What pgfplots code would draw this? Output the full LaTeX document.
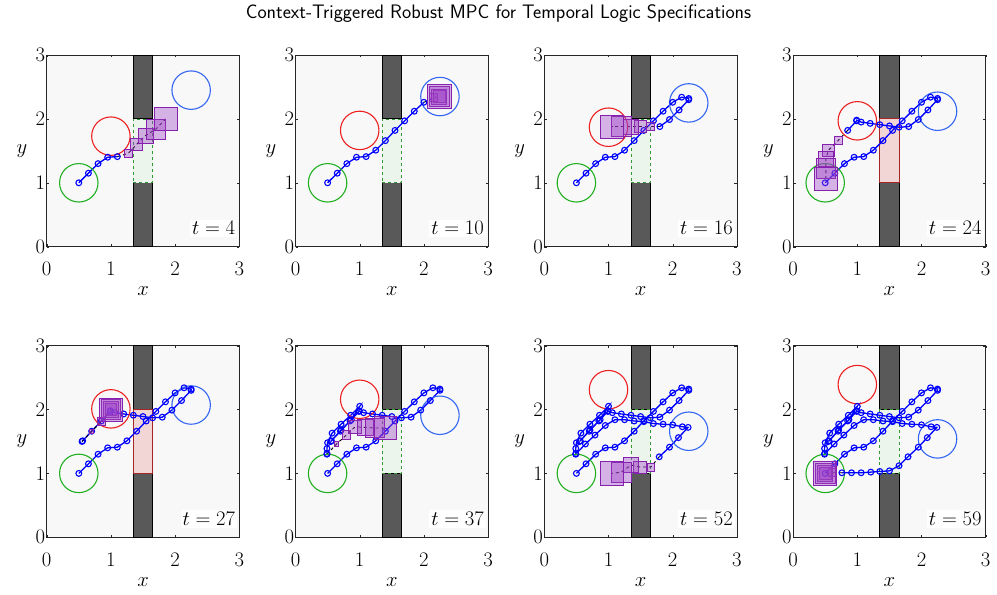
\documentclass[border=0pt]{standalone}
\usepackage{pgfplots}
\pgfplotsset{compat=1.18}
\usepackage{pgfplotstable}

\definecolor{bgc}{rgb}{0.973,0.973,0.973}
\definecolor{obstc}{rgb}{0.35,0.35,0.35}
\definecolor{gapg}{rgb}{0.92,0.96,0.92}
\definecolor{gapgedge}{rgb}{0.2,0.6,0.2}
\definecolor{gapr}{rgb}{0.95,0.84,0.84}
\definecolor{gapredge}{rgb}{0.65,0.15,0.15}
\definecolor{cgreen}{rgb}{0.13,0.69,0.13}
\definecolor{cred}{rgb}{0.93,0.13,0.13}
\definecolor{cblue}{rgb}{0.2,0.4,0.95}
\definecolor{pfill}{rgb}{0.62,0.25,0.78}
\definecolor{pedge}{rgb}{0.52,0.13,0.68}
\definecolor{axc}{rgb}{0.15,0.15,0.15}

% closed-loop trajectory of the robot (one row per time step)
\pgfplotstableread{
x y
0.50 1.00
0.65 1.15
0.80 1.30
0.95 1.40
1.10 1.41
1.25 1.51
1.40 1.66
1.55 1.82
1.70 1.97
1.85 2.12
2.00 2.26
2.14 2.34
2.25 2.32
2.25 2.30
2.10 2.14
1.95 1.99
1.80 1.88
1.65 1.87
1.50 1.89
1.35 1.91
1.20 1.93
1.06 1.95
0.99 1.98
0.99 1.97
0.85 1.82
0.70 1.66
0.56 1.51
0.55 1.50
0.71 1.68
0.87 1.84
1.00 2.05
0.86 1.91
0.71 1.77
0.57 1.63
0.50 1.48
0.49 1.39
0.49 1.31
0.49 1.30
0.64 1.46
0.79 1.60
0.95 1.75
1.10 1.84
1.25 1.84
1.40 1.82
1.55 1.81
1.70 1.78
1.85 1.77
2.00 1.76
2.15 1.73
2.24 1.72
2.09 1.56
1.95 1.41
1.79 1.26
1.65 1.12
1.50 1.04
1.35 1.03
1.21 1.02
1.06 1.01
0.91 1.01
0.76 1.01
}\trajdata

% predicted nominal states and tube half-widths at each snapshot
\pgfplotstableread{
x y h
1.10 1.41 0
1.27 1.46 0.062
1.40 1.60 0.095
1.54 1.74 0.118
1.70 1.84 0.155
1.85 2.00 0.180
}\predA
\pgfplotstableread{
x y h
2.00 2.26 0
2.15 2.33 0.062
2.24 2.35 0.095
2.24 2.35 0.118
2.24 2.35 0.155
2.24 2.35 0.185
}\predB
\pgfplotstableread{
x y h
1.80 1.88 0
1.65 1.88 0.062
1.50 1.88 0.095
1.35 1.88 0.118
1.20 1.88 0.155
1.05 1.88 0.180
}\predC
\pgfplotstableread{
x y h
0.85 1.82 0
0.70 1.66 0.062
0.55 1.51 0.095
0.51 1.37 0.118
0.51 1.22 0.155
0.51 1.06 0.180
}\predD
\pgfplotstableread{
x y h
0.55 1.50 0
0.70 1.66 0.03
0.85 1.81 0.06
1.00 2.00 0.09
1.00 2.00 0.12
1.00 2.00 0.15
1.00 2.00 0.18
}\predE
\pgfplotstableread{
x y h
0.49 1.30 0
0.64 1.46 0.035
0.79 1.60 0.065
0.93 1.73 0.100
1.09 1.72 0.120
1.24 1.71 0.145
1.40 1.71 0.175
}\predF
\pgfplotstableread{
x y h
1.79 1.26 0
1.66 1.10 0.062
1.49 1.10 0.095
1.35 1.13 0.118
1.20 1.02 0.155
1.05 1.00 0.180
}\predG
\pgfplotstableread{
x y h
0.76 1.01 0
0.61 1.01 0.062
0.50 1.00 0.095
0.50 1.00 0.118
0.50 1.00 0.155
0.50 1.00 0.180
}\predH

\pgfplotsset{
  panel/.style={
    scale only axis, width=192.6bp, height=191.7bp,
    anchor=south west,
    xmin=0, xmax=3, ymin=0, ymax=3,
    xtick={0,1,2,3}, ytick={0,1,2,3},
    tick align=inside, major tick length=2.5bp,
    axis background/.style={fill=bgc},
    axis line style={draw=axc, line width=0.6bp},
    tick style={draw=axc},
    xlabel={$x$}, ylabel={$y$},
    tick label style={font=\fontsize{22}{24}\selectfont},
    xticklabel style={yshift=-12bp},
    yticklabel style={xshift=2bp},
    label style={font=\fontsize{22}{24}\selectfont},
    xlabel style={at={(axis description cs:0.5,-0.232)}, anchor=center},
    ylabel style={at={(axis description cs:-0.128,0.5)}, anchor=center, rotate=-90},
  },
  obst/.style={fill=obstc, draw=black, line width=0.8bp},
  gapgreen/.style={fill=gapg, draw=gapgedge, dashed, line width=0.7bp},
  gapred/.style={fill=gapr, draw=gapredge, line width=0.8bp},
  regcirc/.style={only marks, mark=o, mark size=19.3pt, mark options={#1, line width=1.1bp, solid}},
  traj/.style={blue, line width=1.3bp, mark=o, mark size=2.9bp, mark options={line width=1.1bp}},
}

% #1,#2 lower-left corner; #3 time label; #4 number of executed states;
% #5 prediction table; #6 gap style; #7 red target y; #8 blue target y
\newcommand{\panel}[8]{%
  \begin{axis}[panel, at={(#1bp,#2bp)}]
    \addplot[obst] coordinates {(1.35,0) (1.65,0) (1.65,1) (1.35,1)} -- cycle;
    \addplot[obst] coordinates {(1.35,2) (1.65,2) (1.65,3) (1.35,3)} -- cycle;
    \addplot[#6] coordinates {(1.35,1) (1.65,1) (1.65,2) (1.35,2)} -- cycle;
    \addplot[regcirc=cgreen] coordinates {(0.5,1.0)};
    \addplot[regcirc=cred] coordinates {(1.0,#7)};
    \addplot[regcirc=cblue] coordinates {(2.25,#8)};
    \addplot[traj, skip coords between index={#4}{500}] table {\trajdata};
    \addplot[scatter, only marks, mark=square*,
      skip coords between index={0}{1},
      visualization depends on={\thisrow{h} \as \hw},
      scatter/use mapped color={draw=pedge, fill=pfill},
      scatter/@pre marker code/.append style={/tikz/mark size={64.3*\hw}},
      mark options={fill opacity=0.38, line width=0.8bp}] table {#5};
    \addplot[black, dashed, line width=0.9bp] table {#5};
    \node[fill=white, anchor=south east, inner sep=2bp,
      font=\fontsize{21}{23}\selectfont] at (rel axis cs:0.99,0.05) {$t=#3$};
  \end{axis}}

\begin{document}
\begin{tikzpicture}
  \path[use as bounding box] (0,0) rectangle (997bp,595bp);
  \node[font=\sffamily\fontsize{19.6}{23}\selectfont] at (498.5bp,581bp)
    {Context-Triggered Robust MPC for Temporal Logic Specifications};
  \panel{46.7}{348.3}{4}{5}{\predA}{gapgreen}{1.73}{2.45}
  \panel{295.5}{348.3}{10}{11}{\predB}{gapgreen}{1.82}{2.35}
  \panel{544.3}{348.3}{16}{17}{\predC}{gapgreen}{1.87}{2.25}
  \panel{793.1}{348.3}{24}{25}{\predD}{gapred}{1.97}{2.12}
  \panel{46.7}{57.7}{27}{28}{\predE}{gapred}{2.01}{2.07}
  \panel{295.5}{57.7}{37}{38}{\predF}{gapgreen}{2.16}{1.91}
  \panel{544.3}{57.7}{52}{53}{\predG}{gapgreen}{2.31}{1.66}
  \panel{793.1}{57.7}{59}{60}{\predH}{gapgreen}{2.39}{1.54}
\end{tikzpicture}
\end{document}
